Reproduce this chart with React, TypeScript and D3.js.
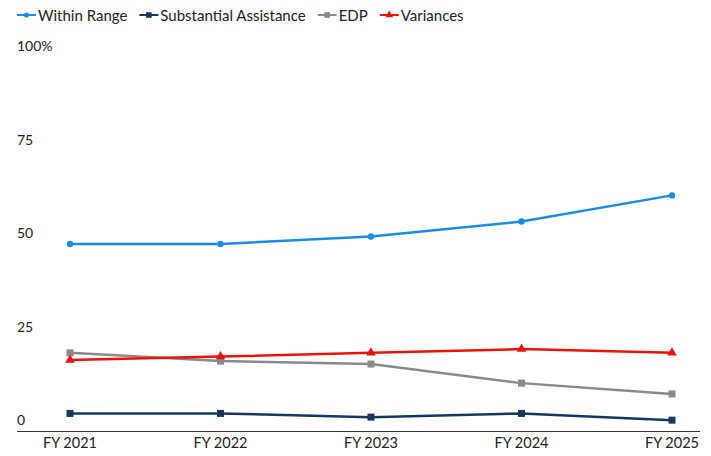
import React, { useEffect, useRef } from 'react'
import * as d3 from 'd3'

const years = ['FY 2021', 'FY 2022', 'FY 2023', 'FY 2024', 'FY 2025']
const withinRange = [50, 50, 52, 56, 63]
const substantialAssistance = [4.7, 4.7, 3.7, 4.7, 2.9]
const edp = [20.9, 18.7, 17.9, 12.8, 9.9]
const variances = [19, 19.9, 20.9, 21.9, 20.9]
const yTicks = [0, 25, 50, 75, 100]

const series = [
  { name: 'Within Range', values: withinRange, color: '#1a8be6', marker: 'circle' },
  { name: 'Substantial Assistance', values: substantialAssistance, color: '#17375e', marker: 'square' },
  { name: 'EDP', values: edp, color: '#8a8a8a', marker: 'square' },
  { name: 'Variances', values: variances, color: '#e8140c', marker: 'triangle' },
]

const App = () => {
  const ref = useRef<SVGSVGElement>(null)

  useEffect(() => {
    const svg = d3.select(ref.current)
    svg.selectAll('*').remove()

    const width = 711
    const height = 456
    svg.attr('width', width).attr('height', height).style('font-family', 'Lato, sans-serif')

    const x = d3.scalePoint<string>().domain(years).range([70, 672])
    const y = d3.scaleLinear().domain([0, 100]).range([431, 57])

    // y labels sit above their value line
    svg.append('g')
      .selectAll('text')
      .data(yTicks)
      .enter()
      .append('text')
      .attr('x', 17)
      .attr('y', (d) => y(d) - 6)
      .attr('font-size', 14)
      .attr('fill', '#222')
      .text((d) => (d === 100 ? '100%' : String(d)))

    // x axis line
    svg.append('line')
      .attr('x1', 17).attr('x2', 700)
      .attr('y1', y(0) + 0.5).attr('y2', y(0) + 0.5)
      .attr('stroke', '#333').attr('stroke-width', 1)

    svg.append('g')
      .selectAll('text')
      .data(years)
      .enter()
      .append('text')
      .attr('x', (d) => x(d)!)
      .attr('y', 448)
      .attr('text-anchor', 'middle')
      .attr('font-size', 14.5)
      .attr('fill', '#222')
      .text((d) => d)

    const line = d3.line<number>()
      .x((_, i) => x(years[i])!)
      .y((d) => y(d))

    const drawMarker = (g: any, kind: string, color: string, cx: number, cy: number, k = 1) => {
      if (kind === 'circle') {
        g.append('circle').attr('cx', cx).attr('cy', cy).attr('r', 3.2 * k).attr('fill', color)
      } else if (kind === 'square') {
        const s = 7 * k
        g.append('rect').attr('x', cx - s / 2).attr('y', cy - s / 2).attr('width', s).attr('height', s).attr('fill', color)
      } else {
        g.append('path')
          .attr('d', d3.symbol().type(d3.symbolTriangle).size(40 * k * k)())
          .attr('transform', `translate(${cx},${cy})`)
          .attr('fill', color)
      }
    }

    series.forEach((s) => {
      const g = svg.append('g')
      g.append('path')
        .datum(s.values)
        .attr('d', line)
        .attr('fill', 'none')
        .attr('stroke', s.color)
        .attr('stroke-width', 2.5)
      s.values.forEach((v, i) => drawMarker(g, s.marker, s.color, x(years[i])!, y(v)))
    })

    // legend
    const legend = svg.append('g')
    let lx = 17
    series.forEach((s) => {
      const item = legend.append('g')
      item.append('line')
        .attr('x1', lx).attr('x2', lx + 19)
        .attr('y1', 15).attr('y2', 15)
        .attr('stroke', s.color).attr('stroke-width', 2)
      drawMarker(item, s.marker, s.color, lx + 9.5, 15, 0.8)
      const t = item.append('text')
        .attr('x', lx + 21)
        .attr('y', 20.5)
        .attr('font-size', 15)
        .attr('fill', '#222')
        .text(s.name)
      const w = (t.node() as SVGTextElement).getComputedTextLength()
      lx += 21 + w + 12
    })
  }, [])

  return <svg ref={ref} style={{ position: 'absolute', left: 0, top: 0 }}></svg>
}

export default App
